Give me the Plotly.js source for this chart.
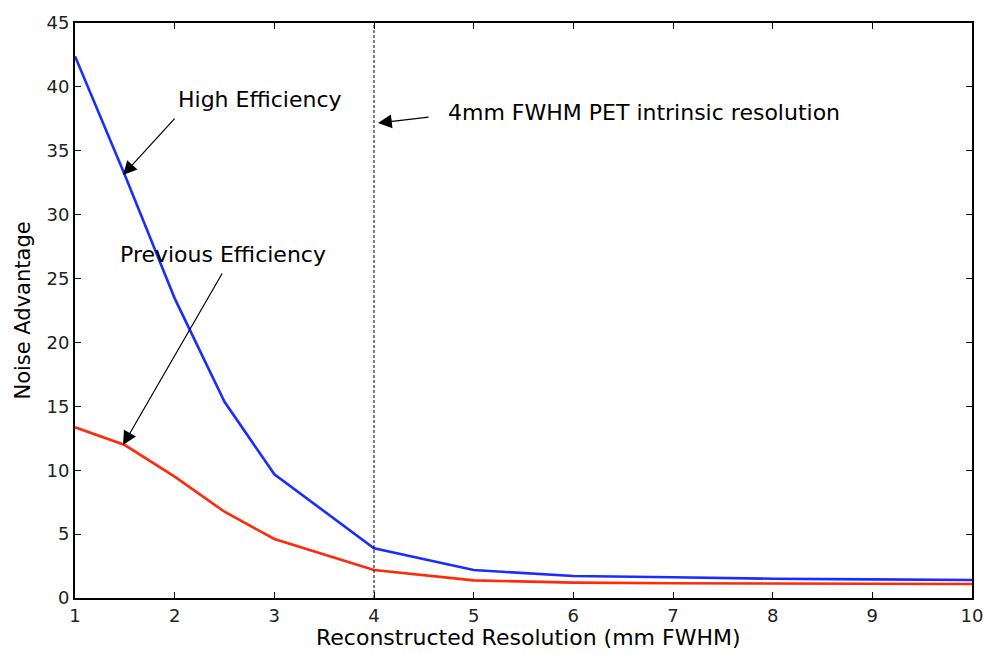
<!DOCTYPE html>
<html>
<head>
<meta charset="utf-8">
<script src="https://cdn.plot.ly/plotly-3.0.1.min.js"></script>
<style>html,body{margin:0;padding:0;background:#fff;}#chart{width:984px;height:654px;}</style>
</head>
<body>
<div id="chart"></div>
<script>
const resolution = [1, 1.5, 2, 2.5, 3, 4, 5, 6, 7, 8, 9, 10];
const highEfficiency = [42.4, 33.1, 23.45, 15.35, 9.68, 3.89, 2.19, 1.72, 1.62, 1.51, 1.46, 1.41];
const previousEfficiency = [13.36, 11.97, 9.5, 6.75, 4.62, 2.19, 1.38, 1.2, 1.15, 1.12, 1.1, 1.1];
const intrinsicResolution = 4;
const xTicks = [1, 2, 3, 4, 5, 6, 7, 8, 9, 10];
const yTicks = [0, 5, 10, 15, 20, 25, 30, 35, 40, 45];
const xTitle = 'Reconstructed Resolution (mm FWHM)';
const yTitle = 'Noise Advantage';

const fontFam = '"DejaVu Sans", "Liberation Sans", Arial, sans-serif';

const traces = [
  {x: resolution, y: highEfficiency, mode: 'lines', line: {color: '#1a2cff', width: 2.6}, name: 'High Efficiency', hoverinfo: 'skip'},
  {x: resolution, y: previousEfficiency, mode: 'lines', line: {color: '#ff2a0a', width: 2.6}, name: 'Previous Efficiency', hoverinfo: 'skip'}
];

function arrow(x, y, ax, ay) {
  return {x: x, y: y, ax: ax, ay: ay, xref: 'x', yref: 'y', axref: 'x', ayref: 'y',
    text: '', showarrow: true, arrowhead: 2, arrowsize: 2.3, arrowwidth: 1.2, arrowcolor: '#000'};
}
function label(x, y, t) {
  return {x: x, y: y, xref: 'x', yref: 'y', text: t, showarrow: false,
    font: {family: fontFam, size: 22, color: '#000'}, xanchor: 'center', yanchor: 'middle'};
}

const layout = {
  width: 984, height: 654,
  margin: {l: 75, r: 12, t: 23, b: 56},
  paper_bgcolor: '#fff', plot_bgcolor: '#fff',
  showlegend: false,
  font: {family: fontFam, color: '#000'},
  xaxis: {
    range: [1, 10], tickvals: xTicks, ticks: 'inside', ticklen: 6, tickwidth: 1, tickcolor: '#000',
    showline: true, linecolor: '#000', linewidth: 2, mirror: 'ticks', showgrid: false, zeroline: false,
    tickfont: {family: fontFam, size: 18, color: '#222'}
  },
  yaxis: {
    range: [0, 45], tickvals: yTicks, ticks: 'inside', ticklen: 6, tickwidth: 1, tickcolor: '#000',
    showline: true, linecolor: '#000', linewidth: 2, mirror: 'ticks', showgrid: false, zeroline: false,
    tickfont: {family: fontFam, size: 18, color: '#222'}
  },
  shapes: [
    {type: 'line', xref: 'x', yref: 'y', x0: intrinsicResolution, x1: intrinsicResolution, y0: 0, y1: 45,
     line: {color: '#000', width: 1, dash: '3px,2px'}}
  ],
  annotations: [
    label(2.856, 39.05, 'High Efficiency'),
    arrow(1.482, 33.1, 2.013, 37.64),
    label(2.485, 26.92, 'Previous Efficiency'),
    arrow(1.482, 11.97, 2.485, 25.51),
    label(6.704, 38.03, '4mm FWHM PET intrinsic resolution'),
    arrow(4.04, 37.17, 4.562, 37.64),
    {xref: 'paper', yref: 'paper', x: 0.506, y: -0.069, text: xTitle, showarrow: false,
     xanchor: 'center', yanchor: 'middle', font: {family: fontFam, size: 22, color: '#000'}},
    {xref: 'paper', yref: 'paper', x: -0.059, y: 0.5, text: yTitle, showarrow: false, textangle: -90,
     xanchor: 'center', yanchor: 'middle', font: {family: fontFam, size: 21, color: '#000'}}
  ]
};

Plotly.newPlot('chart', traces, layout, {displayModeBar: false, staticPlot: true});
</script>
</body>
</html>
